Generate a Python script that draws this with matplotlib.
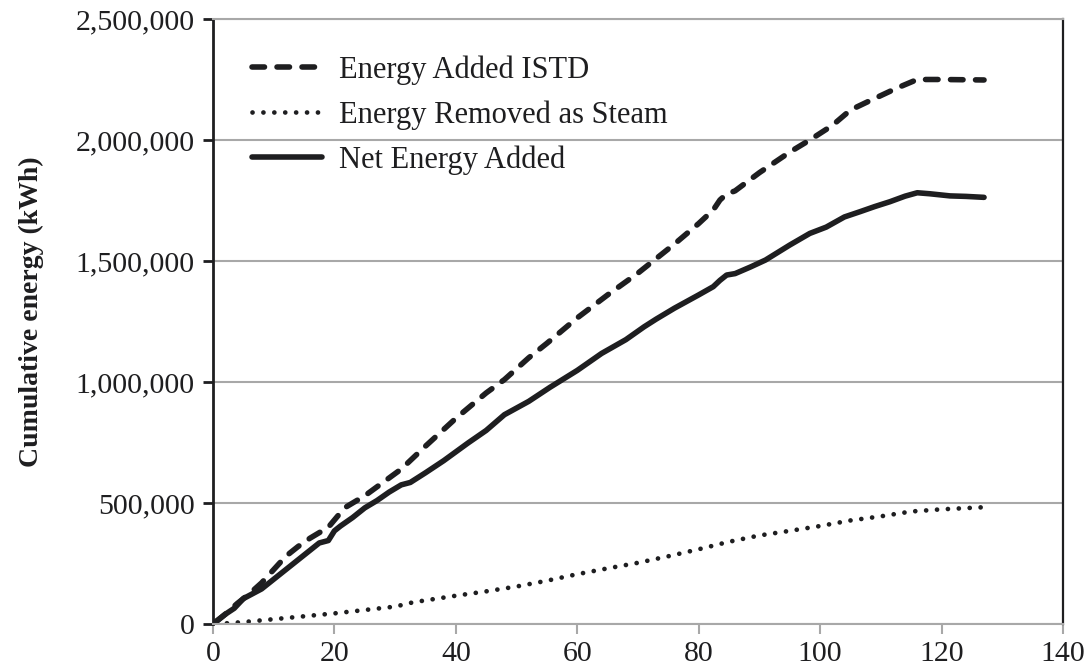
import matplotlib
matplotlib.use("Agg")
import matplotlib.pyplot as plt
from matplotlib.ticker import FuncFormatter

# Data (days vs cumulative kWh)
istd_days = [0.5, 2, 4, 6, 8, 10, 12, 14, 16, 18, 19, 20, 21, 22, 25, 28, 31, 35,
             40, 45, 48, 52, 55, 60, 65, 70, 72.5, 76, 80, 82.4, 83.5, 84.5, 86,
             90, 95, 98.3, 102, 105, 108, 112.6, 116, 120, 127]
istd_kwh = [10000, 40000, 85000, 125000, 170000, 225000, 280000, 320000, 355000,
            385000, 400000, 430000, 460000, 485000, 530000, 585000, 640000, 735000,
            850000, 955000, 1010000, 1100000, 1160000, 1265000, 1360000, 1450000,
            1500000, 1570000, 1655000, 1711000, 1752000, 1775000, 1790000,
            1865000, 1950000, 2000000, 2060000, 2124000, 2160000, 2214000,
            2250000, 2250000, 2248000]

steam_days = [0.5, 5, 10, 15, 20, 25, 30, 33, 40, 45, 50, 55, 60, 65, 70, 75, 80,
              85, 90, 95, 100, 105, 110, 115, 120, 126.5]
steam_kwh = [0, 8000, 20000, 32000, 44000, 58000, 72000, 90000, 117000, 135000,
             155000, 179000, 206000, 230000, 253000, 280000, 309000, 340000,
             366000, 385000, 405000, 428000, 445000, 465000, 474000, 482000]

net_days = [0.5, 2, 3.5, 5, 6.5, 8, 10, 12, 14, 16, 17.5, 19, 20, 21, 23, 25, 27,
            29, 31, 32.5, 35, 38, 42, 45, 48, 52, 55.5, 60, 64, 68, 71, 73, 76, 80,
            82.4, 83.5, 84.6, 86, 88.5, 91, 93, 95, 98.3, 101, 104, 106.6, 109,
            111.5, 114, 116, 118, 121.4, 124, 127]
net_kwh = [10000, 40000, 65000, 105000, 125000, 145000, 185000, 225000, 265000,
           305000, 335000, 345000, 385000, 405000, 440000, 480000, 510000, 545000,
           575000, 585000, 625000, 675000, 748000, 800000, 865000, 920000, 978000,
           1048000, 1118000, 1175000, 1228000, 1260000, 1305000, 1360000,
           1394000, 1420000, 1442000, 1448000, 1475000, 1504000, 1535000,
           1566000, 1614000, 1640000, 1682000, 1704000, 1725000, 1745000,
           1768000, 1782000, 1778000, 1769000, 1767000, 1763000]

x_ticks = [0, 20, 40, 60, 80, 100, 120, 140]
y_ticks = [0, 500000, 1000000, 1500000, 2000000, 2500000]

plt.rcParams["font.family"] = ["Liberation Serif", "DejaVu Serif"]

ink = "#1e1e20"
grid_gray = "#a8a8a8"

fig = plt.figure(figsize=(10.89, 6.71), dpi=100)
ax = fig.add_axes([0.1956, 0.0700, 0.7805, 0.9017])

ax.plot(istd_days, istd_kwh, color=ink, lw=4.0, dashes=(2.25, 2.25),
        dash_capstyle="round", label="Energy Added ISTD")
ax.plot(steam_days, steam_kwh, color=ink, lw=3.4, linestyle=(0, (0.01, 2.3)),
        dash_capstyle="round", label="Energy Removed as Steam")
ax.plot(net_days, net_kwh, color=ink, lw=4.0, solid_capstyle="round",
        label="Net Energy Added")

ax.set_xlim(0, 140)
ax.set_ylim(0, 2500000)
ax.set_xticks(x_ticks)
ax.set_yticks(y_ticks)
ax.yaxis.set_major_formatter(FuncFormatter(lambda v, p: f"{int(v):,}"))

ax.grid(axis="y", color=grid_gray, lw=1.5)
ax.set_axisbelow(True)

for side in ("top", "bottom"):
    ax.spines[side].set_color(grid_gray)
    ax.spines[side].set_linewidth(1.5)
ax.spines["left"].set_color(ink)
ax.spines["left"].set_linewidth(2.0)
ax.spines["right"].set_color(ink)
ax.spines["right"].set_linewidth(1.6)

ax.tick_params(axis="y", direction="out", length=7, width=2.0, color=ink,
               labelsize=21.5, pad=6, labelcolor=ink)
ax.tick_params(axis="x", direction="out", length=7, width=1.5, color=grid_gray,
               labelsize=21.5, pad=5, labelcolor=ink)

ax.set_ylabel("Cumulative energy (kWh)", fontsize=20, fontweight="bold",
              color=ink)
ax.yaxis.set_label_coords(-0.199, 0.517)

ax.legend(loc="upper left", bbox_to_anchor=(0.0135, 0.985), frameon=False,
          fontsize=22, handlelength=2.3, handletextpad=0.55, labelspacing=0.5,
          labelcolor=ink)

fig.savefig("out.png", dpi=100)
